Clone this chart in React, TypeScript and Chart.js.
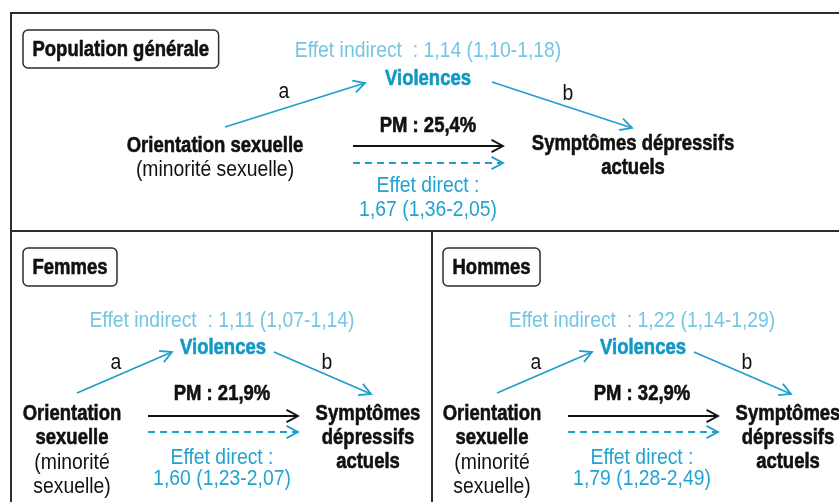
import React, { useEffect, useRef } from 'react';
import { Chart, registerables } from 'chart.js';
Chart.register(...registerables);

// ---- Content ----
const panelTitles = ['Population générale', 'Femmes', 'Hommes'];
const indirectEffects = ['1,14 (1,10-1,18)', '1,11 (1,07-1,14)', '1,22 (1,14-1,29)'];
const directEffects = ['1,67 (1,36-2,05)', '1,60 (1,23-2,07)', '1,79 (1,28-2,49)'];
const pmValues = ['25,4%', '21,9%', '32,9%'];
const mediatorLabel = 'Violences';
const pathLabels = ['a', 'b'];
const indirectPrefix = 'Effet indirect  : ';
const directPrefix = 'Effet direct :';
const exposureWide: [string, boolean][] = [['Orientation sexuelle', true], ['(minorité sexuelle)', false]];
const exposureNarrow: [string, boolean][] = [['Orientation', true], ['sexuelle', true], ['(minorité', false], ['sexuelle)', false]];
const outcomeWide = ['Symptômes dépressifs', 'actuels'];
const outcomeNarrow = ['Symptômes', 'dépressifs', 'actuels'];

// ---- Layout (diagram coordinates, same as pixels) ----
const W = 839;
const H = 502;
type Layout = {
  box: number[]; indirect: number[]; mediator: number[];
  a: number[]; aLab: number[]; b: number[]; bLab: number[];
  pm: number[]; total: number[]; direct: number[]; directText: number[];
  exposure: number[]; outcome: number[];
};
const topLayout: Layout = {
  box: [23, 30, 38], indirect: [428, 50], mediator: [428, 78],
  a: [225, 127, 365, 83], aLab: [284, 91], b: [492, 82, 632, 128], bLab: [568, 93],
  pm: [428, 125], total: [353, 146, 503, 146], direct: [353, 163, 503, 163],
  directText: [428, 185, 209], exposure: [215, 145, 24], outcome: [633, 143, 24],
};
const bottomLayout: Layout = {
  box: [23, 248, 38], indirect: [222, 320], mediator: [223, 347],
  a: [77, 393, 172, 352], aLab: [116, 362], b: [274, 352, 371, 394], bLab: [327, 362],
  pm: [222, 393], total: [148, 416, 298, 416], direct: [148, 432, 298, 432],
  directText: [222, 457, 478], exposure: [72, 413, 24.3], outcome: [368, 413, 24],
};
const panelOffsets = [0, 0, 420];
const panelLayouts = [topLayout, bottomLayout, bottomLayout];

const COL_INDIRECT = '#74c6e2';
const COL_MEDIATOR = '#1398c4';
const COL_DIRECT = '#23a3cf';
const COL_ARROW = '#1ea0ca';
const COL_TEXT = '#111111';
const COL_BORDER = '#2e2e2e';
const FONT = '"Liberation Sans", Arial, sans-serif';
const SIZE = 22;
const SCALE_BOLD = 0.84;
const SCALE_REG = 0.88;

function buildDatasets() {
  const ds: any[] = [];
  panelLayouts.forEach((L, i) => {
    const dx = panelOffsets[i];
    const seg = (s: number[], color: string, dash: number[]) => ({
      data: [{ x: s[0] + dx, y: s[1] }, { x: s[2] + dx, y: s[3] }],
      showLine: true, borderColor: color, borderWidth: 1.8, borderDash: dash,
      pointRadius: 0, pointHoverRadius: 0, tension: 0, clip: false,
    });
    ds.push(seg(L.a, COL_ARROW, []));
    ds.push(seg(L.b, COL_ARROW, []));
    ds.push(seg(L.total, COL_TEXT, []));
    ds.push(seg(L.direct, COL_ARROW, [7, 5]));
  });
  return ds;
}

function drawText(ctx: CanvasRenderingContext2D, text: string, x: number, y: number, bold: boolean, color: string) {
  ctx.save();
  ctx.font = `${bold ? 'bold ' : ''}${SIZE}px ${FONT}`;
  ctx.fillStyle = color;
  ctx.textAlign = 'center';
  ctx.textBaseline = 'middle';
  ctx.translate(x, y + 1);
  ctx.scale(bold ? SCALE_BOLD : SCALE_REG, 1);
  ctx.fillText(text, 0, 0);
  if (bold) {
    ctx.strokeStyle = color;
    ctx.lineWidth = 0.6;
    ctx.strokeText(text, 0, 0);
  }
  ctx.restore();
}

const arrowHeads = {
  id: 'arrowHeads',
  afterDatasetsDraw(chart: any) {
    const ctx = chart.ctx as CanvasRenderingContext2D;
    chart.data.datasets.forEach((d: any, i: number) => {
      const meta = chart.getDatasetMeta(i);
      const p1 = meta.data[0];
      const p2 = meta.data[1];
      if (!p1 || !p2) return;
      const ang = Math.atan2(p2.y - p1.y, p2.x - p1.x);
      const len = 13;
      const spread = (28 * Math.PI) / 180;
      ctx.save();
      ctx.strokeStyle = d.borderColor;
      ctx.lineWidth = 1.8;
      ctx.setLineDash([]);
      ctx.beginPath();
      ctx.moveTo(p2.x - len * Math.cos(ang - spread), p2.y - len * Math.sin(ang - spread));
      ctx.lineTo(p2.x, p2.y);
      ctx.lineTo(p2.x - len * Math.cos(ang + spread), p2.y - len * Math.sin(ang + spread));
      ctx.stroke();
      ctx.restore();
    });
  },
};

const diagramText = {
  id: 'diagramText',
  afterDraw(chart: any) {
    const ctx = chart.ctx as CanvasRenderingContext2D;
    const xs = chart.scales.x;
    const ys = chart.scales.y;
    const px = (v: number) => xs.getPixelForValue(v);
    const py = (v: number) => ys.getPixelForValue(v);

    // frame
    ctx.save();
    ctx.strokeStyle = COL_BORDER;
    ctx.lineWidth = 2;
    ctx.beginPath();
    ctx.moveTo(px(11), py(H + 2));
    ctx.lineTo(px(11), py(13));
    ctx.lineTo(px(W + 2), py(13));
    ctx.moveTo(px(11), py(231));
    ctx.lineTo(px(W + 2), py(231));
    ctx.moveTo(px(432), py(231));
    ctx.lineTo(px(432), py(H + 2));
    ctx.stroke();
    ctx.restore();

    panelLayouts.forEach((L, i) => {
      const dx = panelOffsets[i];
      // title box
      ctx.save();
      ctx.font = `bold ${SIZE}px ${FONT}`;
      const tw = ctx.measureText(panelTitles[i]).width * SCALE_BOLD;
      ctx.restore();
      const bx = px(L.box[0] + dx);
      const by = py(L.box[1]);
      const bw = tw + 19;
      const bh = L.box[2];
      ctx.save();
      ctx.strokeStyle = COL_BORDER;
      ctx.lineWidth = 1.5;
      ctx.beginPath();
      (ctx as any).roundRect(bx, by, bw, bh, 5);
      ctx.stroke();
      ctx.restore();
      drawText(ctx, panelTitles[i], bx + bw / 2, by + bh / 2, true, COL_TEXT);

      drawText(ctx, indirectPrefix + indirectEffects[i], px(L.indirect[0] + dx), py(L.indirect[1]), false, COL_INDIRECT);
      drawText(ctx, mediatorLabel, px(L.mediator[0] + dx), py(L.mediator[1]), true, COL_MEDIATOR);
      drawText(ctx, pathLabels[0], px(L.aLab[0] + dx), py(L.aLab[1]), false, COL_TEXT);
      drawText(ctx, pathLabels[1], px(L.bLab[0] + dx), py(L.bLab[1]), false, COL_TEXT);
      drawText(ctx, 'PM : ' + pmValues[i], px(L.pm[0] + dx), py(L.pm[1]), true, COL_TEXT);
      drawText(ctx, directPrefix, px(L.directText[0] + dx), py(L.directText[1]), false, COL_DIRECT);
      drawText(ctx, directEffects[i], px(L.directText[0] + dx), py(L.directText[2]), false, COL_DIRECT);

      const exp = i === 0 ? exposureWide : exposureNarrow;
      exp.forEach(([t, b], k) => {
        drawText(ctx, t, px(L.exposure[0] + dx), py(L.exposure[1] + k * L.exposure[2]), b, COL_TEXT);
      });
      const out = i === 0 ? outcomeWide : outcomeNarrow;
      out.forEach((t, k) => {
        drawText(ctx, t, px(L.outcome[0] + dx), py(L.outcome[1] + k * L.outcome[2]), true, COL_TEXT);
      });
    });
  },
};

export default function App() {
  const ref = useRef<HTMLCanvasElement>(null);
  useEffect(() => {
    if (!ref.current) return;
    const chart = new Chart(ref.current, {
      type: 'scatter',
      data: { datasets: buildDatasets() },
      options: {
        animation: false,
        responsive: true,
        maintainAspectRatio: false,
        layout: { padding: 0 },
        events: [],
        plugins: { legend: { display: false }, tooltip: { enabled: false } },
        scales: {
          x: { type: 'linear', min: 0, max: W, display: false },
          y: { type: 'linear', min: 0, max: H, reverse: true, display: false },
        },
      },
      plugins: [arrowHeads, diagramText],
    });
    return () => chart.destroy();
  }, []);
  return (
    <div style={{ position: 'fixed', left: 0, top: 0, width: W, height: H, background: '#fff' }}>
      <canvas ref={ref} />
    </div>
  );
}
